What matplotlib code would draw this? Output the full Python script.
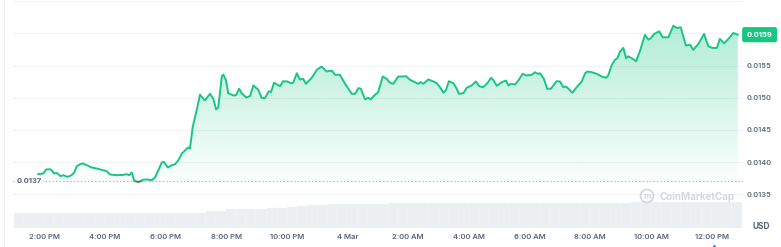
import numpy as np
import matplotlib.pyplot as plt
from matplotlib.patches import Rectangle, Ellipse
from matplotlib.lines import Line2D
from matplotlib.transforms import blended_transform_factory

plt.rcParams['font.family'] = ['Inter', 'DejaVu Sans']

GREEN = '#16c784'
RED = '#ea3943'
GREY = '#58667e'

# hours after 12:00 PM on 3 Mar
hours = [1.81, 1.98, 2.07, 2.20, 2.25, 2.33, 2.42, 2.55, 2.64, 2.77, 2.91, 3.00,
         3.08, 3.19, 3.29, 3.41, 3.57, 3.74, 4.07, 4.17, 4.40, 4.61, 4.72, 4.81,
         4.89, 4.97, 5.11, 5.27, 5.38, 5.55, 5.66, 5.77, 5.88, 5.95, 6.08, 6.21,
         6.32, 6.43, 6.54, 6.68, 6.75, 6.81, 6.90, 7.03, 7.14, 7.30, 7.47, 7.58,
         7.67, 7.74, 7.86, 7.91, 8.00, 8.07, 8.24, 8.33, 8.43, 8.51, 8.66, 8.79,
         8.90, 9.06, 9.17, 9.28, 9.41, 9.48, 9.58, 9.78, 9.88, 10.02, 10.13, 10.21,
         10.33, 10.43, 10.54, 10.63, 10.82, 11.00, 11.15, 11.31, 11.48, 11.59, 11.75,
         11.92, 12.14, 12.25, 12.36, 12.44, 12.58, 12.69, 12.76, 12.91, 13.01, 13.16,
         13.29, 13.40, 13.51, 13.67, 13.84, 13.93, 14.06, 14.22, 14.33, 14.41, 14.50,
         14.66, 14.83, 14.94, 15.05, 15.16, 15.25, 15.34, 15.49, 15.60, 15.67, 15.82,
         15.93, 16.09, 16.23, 16.34, 16.47, 16.62, 16.73, 16.80, 16.92, 17.08, 17.22,
         17.30, 17.39, 17.52, 17.63, 17.77, 17.90, 18.07, 18.18, 18.27, 18.34, 18.47,
         18.58, 18.70, 18.89, 19.00, 19.11, 19.20, 19.31, 19.41, 19.55, 19.72, 19.83,
         19.90, 20.05, 20.21, 20.38, 20.52, 20.59, 20.71, 20.81, 20.89, 20.98, 21.09,
         21.18, 21.25, 21.40, 21.51, 21.64, 21.80, 21.91, 21.99, 22.10, 22.27, 22.39,
         22.57, 22.74, 22.85, 22.98, 23.15, 23.29, 23.39, 23.56, 23.75, 23.89, 24.03,
         24.17, 24.27, 24.41, 24.60, 24.71, 24.86]

price = [0.013811, 0.013822, 0.013884, 0.013888, 0.013873, 0.013822, 0.013831,
         0.013780, 0.013795, 0.013769, 0.013795, 0.013842, 0.013935, 0.013966,
         0.013977, 0.013950, 0.013915, 0.013899, 0.013857, 0.013806, 0.013795,
         0.013800, 0.013811, 0.013795, 0.013837, 0.013712, 0.013690, 0.013725,
         0.013729, 0.013718, 0.013760, 0.013873, 0.013992, 0.014002, 0.013915,
         0.013950, 0.013966, 0.014028, 0.014132, 0.014194, 0.014225, 0.014209,
         0.014544, 0.014803, 0.015047, 0.014958, 0.015062, 0.014984, 0.014819,
         0.014845, 0.015335, 0.015361, 0.015268, 0.015071, 0.015036, 0.015040,
         0.015140, 0.015071, 0.015005, 0.015025, 0.015191, 0.015124, 0.015000,
         0.014994, 0.015102, 0.015087, 0.015233, 0.015180, 0.015257, 0.015253,
         0.015226, 0.015233, 0.015381, 0.015284, 0.015295, 0.015217, 0.015310,
         0.015439, 0.015485, 0.015408, 0.015423, 0.015357, 0.015357, 0.015217,
         0.015062, 0.015062, 0.015149, 0.015140, 0.014974, 0.015000, 0.014974,
         0.015047, 0.015087, 0.015330, 0.015295, 0.015233, 0.015217, 0.015330,
         0.015330, 0.015335, 0.015279, 0.015242, 0.015217, 0.015242, 0.015217,
         0.015284, 0.015253, 0.015226, 0.015164, 0.015078, 0.015124, 0.015257,
         0.015226, 0.015140, 0.015062, 0.015071, 0.015155, 0.015191, 0.015253,
         0.015180, 0.015164, 0.015233, 0.015310, 0.015279, 0.015186, 0.015242,
         0.015268, 0.015191, 0.015217, 0.015206, 0.015268, 0.015372, 0.015346,
         0.015357, 0.015397, 0.015372, 0.015381, 0.015295, 0.015140, 0.015140,
         0.015257, 0.015253, 0.015164, 0.015175, 0.015124, 0.015078, 0.015164,
         0.015253, 0.015381, 0.015408, 0.015397, 0.015372, 0.015330, 0.015310,
         0.015346, 0.015512, 0.015589, 0.015614, 0.015718, 0.015775, 0.015614,
         0.015645, 0.015605, 0.015567, 0.015733, 0.015977, 0.015904, 0.015924,
         0.015992, 0.016033, 0.015940, 0.015940, 0.016121, 0.016085, 0.016095,
         0.015811, 0.015826, 0.015744, 0.015837, 0.015992, 0.015800, 0.015775,
         0.015775, 0.015915, 0.015847, 0.015940, 0.016008, 0.015981]

# rolling 24h volume, one bar per 20 minutes starting at 1:00 PM
vol_start = 1.0 + np.arange(72) / 3
volume = [58, 58, 58.5, 58.5, 58, 58, 58, 58.5, 58.5, 58, 58, 58, 58.5, 58.5,
          58, 58, 58, 58.5,
          61, 66, 69, 74, 75, 76, 77, 78, 80, 83, 87, 90, 92, 94, 95, 96, 97,
          97, 97, 97.5, 97.5, 97.5, 98, 98, 98, 98, 98, 98.5, 98.5, 98.5, 99,
          99, 99, 99, 99.5, 99.5, 99.5, 100, 100, 100, 100.5, 100.5,
          101, 103, 104, 104, 104, 104, 104, 104, 104, 104, 104, 104]

OPEN = 0.0137

tick_hours = [2, 4, 6, 8, 10, 12, 14, 16, 18, 20, 22, 24]
tick_labels = ['2:00 PM', '4:00 PM', '6:00 PM', '8:00 PM', '10:00 PM', '4 Mar',
               '2:00 AM', '4:00 AM', '6:00 AM', '8:00 AM', '10:00 AM', '12:00 PM']
price_ticks = [0.0135, 0.0140, 0.0145, 0.0150, 0.0155, 0.0160, 0.0165]
price_labels = ['0.0135', '0.0140', '0.0145', '0.0150', '0.0155', '', '']

fig = plt.figure(figsize=(7.81, 2.47), dpi=100)
ax = fig.add_axes([13 / 781, 19 / 247, 729.5 / 781, 227 / 247])

# volume bars on a twin axis (created first: twinx moves the y ticks left)
vax = ax.twinx()
vax.bar(vol_start, volume, width=1 / 3, align='edge',
        color='#eceff2', edgecolor='#f4f6f8', linewidth=0.3)
vax.set_ylim(0, 900)
vax.axis('off')

# gradient fill between price and the open line
rgb = np.array([22, 199, 132]) / 255
grad = np.zeros((256, 1, 4))
grad[:, 0, :3] = rgb
grad[:, 0, 3] = np.linspace(0.02, 0.33, 256)
im = ax.imshow(grad, aspect='auto', origin='lower', zorder=2,
               extent=(hours[0], hours[-1], OPEN, max(price)))
fill = ax.fill_between(hours, np.maximum(price, OPEN), OPEN,
                       facecolor='none', edgecolor='none')
im.set_clip_path(fill.get_paths()[0], transform=ax.transData)

ax.plot(hours, price, color=GREEN, lw=1.4, zorder=4, solid_joinstyle='round')
red, = ax.plot(hours, price, color=RED, lw=1.4, zorder=5)
red.set_clip_path(Rectangle((0, 0), 30, OPEN, transform=ax.transData))

ax.axhline(OPEN, color='#a7b1c2', lw=0.8, dashes=(1.2, 2.0), zorder=3)

ax.set_xlim(0.979, 25.015)
ax.set_ylim(0.0129736, 0.016505)

for s in ax.spines.values():
    s.set_visible(False)
ax.set_xticks(tick_hours)
ax.set_xticklabels(tick_labels)
ax.yaxis.tick_right()
ax.set_yticks(price_ticks)
ax.set_yticklabels(price_labels)
ax.tick_params(axis='x', length=0, pad=4.5, labelsize=5.5, labelcolor=GREY)
ax.tick_params(axis='y', length=0, pad=3.3, labelsize=5.3, labelcolor=GREY)
for lab in ax.get_xticklabels() + ax.get_yticklabels():
    lab.set_fontweight('semibold')
ax.grid(axis='y', color='#f0f2f5', lw=0.8, zorder=0)

tr = blended_transform_factory(ax.transAxes, ax.transData)
ax.text(0.005, OPEN, '0.0137', transform=tr, ha='left', va='center',
        fontsize=5.5, fontweight='bold', color=GREY, zorder=6,
        bbox=dict(fc='white', ec='none', pad=0.8))
last = price[-1]
ax.text(1.0235, last, '{:.4f}'.format(np.floor(last * 1e4) / 1e4), transform=tr,
        ha='center', va='center', fontsize=5.5, fontweight='bold', color='white',
        bbox=dict(boxstyle='round,pad=0.6,rounding_size=0.3', fc=GREEN, ec='none'))

fig.text(761 / 781, 1 - 226 / 247, 'USD', ha='center', va='center',
         fontsize=6, fontweight='bold', color=GREY)

# watermark
fig.text(660 / 781, 1 - 196.5 / 247, 'CoinMarketCap', ha='left', va='center',
         fontsize=7, fontweight='bold', color='#d3d8e0')
fig.add_artist(Ellipse((647 / 781, 1 - 196 / 247), 13 / 781, 13 / 247,
                       transform=fig.transFigure, fc='none', ec='#d3d8e0', lw=1.3))
fig.text(647 / 781, 1 - 196.5 / 247, 'm', ha='center', va='center',
         fontsize=6, fontweight='bold', color='#d3d8e0')

fig.add_artist(Line2D([3.5 / 781, 3.5 / 781], [0, 1], transform=fig.transFigure,
                      color='#eef0f3', lw=1))
fig.add_artist(Line2D([714 / 781], [0.5 / 247], transform=fig.transFigure,
                      marker='^', markersize=3, color='#3861fb', lw=0))

fig.savefig('out.png', dpi=100)
